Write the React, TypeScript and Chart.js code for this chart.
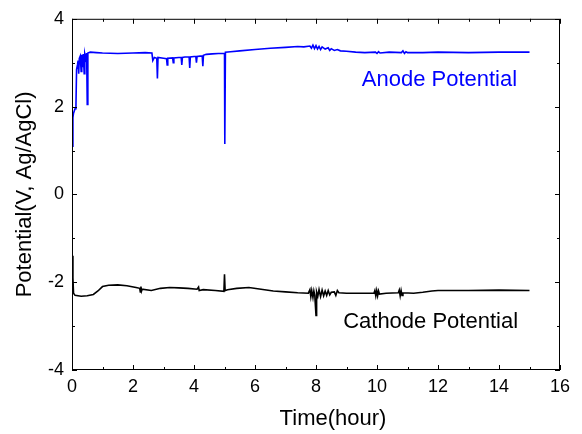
import React, { useEffect, useRef } from "react";
import { Chart, registerables } from "chart.js";

Chart.register(...registerables);

// Anode potential (hours, V vs Ag/AgCl)
const anodeTime = [
  0.02, 0.03, 0.05, 0.1, 0.13, 0.15, 0.18, 0.2, 0.22, 0.24, 0.27, 0.3, 0.32, 0.35, 0.37, 0.4, 0.42, 0.45, 0.48, 0.5,
  0.52, 0.6, 0.8, 1.0, 1.5, 2.0, 2.4, 2.62, 2.65, 2.7, 2.78, 2.8, 2.82, 3.0, 3.1, 3.12, 3.14, 3.3, 3.32, 3.34,
  3.5, 3.58, 3.6, 3.62, 3.7, 3.84, 3.86, 3.88, 4.0, 4.06, 4.08, 4.1, 4.2, 4.27, 4.29, 4.31, 4.4, 4.6, 4.8, 5.0,
  5.01, 5.03, 5.2, 5.5, 6.0, 6.5, 7.0, 7.4, 7.6, 7.8, 7.85, 7.9, 7.95, 8.0, 8.05, 8.1, 8.15, 8.2, 8.3, 8.4,
  8.45, 8.5, 8.6, 8.7, 8.8, 9.0, 9.3, 9.6, 9.95, 10.0, 10.05, 10.1, 10.4, 10.8, 10.85, 10.9, 10.95, 11.0, 11.5, 12.0,
  13.0, 14.0, 15.0,
];
const anodeValue = [
  1.1, 1.75, 1.85, 1.95, 2.05, 2.85, 2.95, 3.05, 2.75, 3.1, 3.15, 2.8, 3.18, 2.9, 3.2, 2.75, 3.2, 3.1, 3.22, 2.05,
  3.22, 3.24, 3.23, 3.22, 3.21, 3.22, 3.23, 3.22, 3.05, 3.12, 3.1, 2.64, 3.12, 3.1, 3.09, 2.95, 3.1, 3.11, 3.0, 3.11,
  3.12, 3.12, 2.95, 3.12, 3.13, 3.13, 2.88, 3.13, 3.14, 3.14, 3.0, 3.14, 3.15, 3.15, 2.92, 3.17, 3.19, 3.2, 3.21, 3.21,
  1.15, 3.24, 3.25, 3.27, 3.3, 3.33, 3.35, 3.37, 3.36, 3.38, 3.33, 3.4, 3.32, 3.39, 3.31, 3.37, 3.3, 3.36, 3.31, 3.34,
  3.28, 3.32, 3.28, 3.3, 3.27, 3.26, 3.24, 3.23, 3.24, 3.21, 3.25, 3.22, 3.24, 3.23, 3.27, 3.21, 3.25, 3.23, 3.23, 3.24,
  3.23, 3.24, 3.24,
];

// Cathode potential (hours, V vs Ag/AgCl)
const cathodeTime = [
  0.02, 0.03, 0.05, 0.1, 0.3, 0.5, 0.7, 0.85, 1.0, 1.2, 1.5, 1.8, 2.1, 2.22, 2.24, 2.26, 2.28, 2.3, 2.6, 2.9,
  3.2, 3.5, 3.8, 4.1, 4.15, 4.17, 4.3, 4.7, 4.98, 5.0, 5.02, 5.1, 5.4, 5.8, 6.2, 6.6, 7.0, 7.4, 7.75, 7.8,
  7.83, 7.86, 7.9, 7.93, 7.96, 8.0, 8.02, 8.06, 8.1, 8.15, 8.2, 8.25, 8.3, 8.35, 8.4, 8.45, 8.5, 8.6, 8.65, 8.7,
  8.75, 9.0, 9.5, 9.9, 9.93, 9.96, 9.99, 10.02, 10.05, 10.08, 10.3, 10.7, 10.73, 10.76, 10.79, 10.82, 10.85, 11.2, 11.5, 11.8,
  12.0, 13.0, 14.0, 15.0,
];
const cathodeValue = [
  -1.4, -1.9, -2.25, -2.3, -2.32, -2.31, -2.28, -2.2, -2.1, -2.07, -2.06, -2.08, -2.12, -2.14, -2.22, -2.1, -2.2, -2.16, -2.19, -2.14,
  -2.12, -2.13, -2.14, -2.16, -2.11, -2.19, -2.17, -2.19, -2.21, -1.82, -2.19, -2.17, -2.14, -2.12, -2.16, -2.2, -2.22, -2.24, -2.25, -2.17,
  -2.33, -2.19, -2.35, -2.2, -2.3, -2.76, -2.22, -2.32, -2.17, -2.33, -2.18, -2.31, -2.2, -2.3, -2.19, -2.29, -2.23, -2.22, -2.3, -2.19,
  -2.24, -2.25, -2.25, -2.25, -2.19, -2.31, -2.19, -2.31, -2.2, -2.27, -2.25, -2.24, -2.18, -2.31, -2.19, -2.3, -2.24, -2.25, -2.23, -2.2,
  -2.19, -2.19, -2.18, -2.19,
];

const xTickValues = [0, 2, 4, 6, 8, 10, 12, 14, 16];
const yTickValues = [-4, -2, 0, 2, 4];
const xMinorValues = [1, 3, 5, 7, 9, 11, 13, 15];
const yMinorValues = [-3, -1, 1, 3];

const xTitle = "Time(hour)";
const yTitle = "Potential(V, Ag/AgCl)";
const anodeLabel = "Anode Potential";
const cathodeLabel = "Cathode Potential";

const FONT = "'Liberation Sans', Arial, Helvetica, sans-serif";

const framePlugin = {
  id: "framePlugin",
  afterDraw(chart: any) {
    const { ctx, chartArea, scales } = chart;
    const xs = scales.x;
    const ys = scales.y;
    const { left, right, top, bottom } = chartArea;
    ctx.save();
    ctx.strokeStyle = "#000";
    ctx.lineWidth = 1;
    ctx.strokeRect(left + 0.5, top + 0.5, right - left - 1, bottom - top - 1);
    ctx.beginPath();
    const major = 5;
    const minor = 3;
    const drawX = (v: number, len: number) => {
      const px = Math.round(xs.getPixelForValue(v)) + 0.5;
      ctx.moveTo(px, bottom);
      ctx.lineTo(px, bottom - len);
      ctx.moveTo(px, top);
      ctx.lineTo(px, top + len);
    };
    const drawY = (v: number, len: number) => {
      const py = Math.round(ys.getPixelForValue(v)) + 0.5;
      ctx.moveTo(left, py);
      ctx.lineTo(left + len, py);
      ctx.moveTo(right, py);
      ctx.lineTo(right - len, py);
    };
    xTickValues.forEach((v) => drawX(v, major));
    xMinorValues.forEach((v) => drawX(v, minor));
    yTickValues.forEach((v) => drawY(v, major));
    yMinorValues.forEach((v) => drawY(v, minor));
    ctx.stroke();

    // series labels
    ctx.font = `22px ${FONT}`;
    ctx.textAlign = "left";
    ctx.textBaseline = "alphabetic";
    ctx.fillStyle = "#0000ff";
    ctx.fillText(anodeLabel, xs.getPixelForValue(9.5), ys.getPixelForValue(2.47));
    ctx.fillStyle = "#000";
    ctx.fillText(cathodeLabel, xs.getPixelForValue(8.89), ys.getPixelForValue(-3.05));

    // x axis title
    ctx.textAlign = "center";
    ctx.fillText(xTitle, 333, 425);
    ctx.restore();
  },
};

export default function App() {
  const canvasRef = useRef<HTMLCanvasElement | null>(null);

  useEffect(() => {
    document.body.style.margin = "0";
    const canvas = canvasRef.current;
    if (!canvas) return;
    const chart = new Chart(canvas, {
      type: "line",
      data: {
        datasets: [
          {
            label: anodeLabel,
            data: anodeTime.map((t, i) => ({ x: t, y: anodeValue[i] })),
            borderColor: "#0000ff",
            borderWidth: 1.6,
            pointRadius: 0,
            tension: 0,
          },
          {
            label: cathodeLabel,
            data: cathodeTime.map((t, i) => ({ x: t, y: cathodeValue[i] })),
            borderColor: "#000000",
            borderWidth: 1.6,
            pointRadius: 0,
            tension: 0,
          },
        ],
      },
      options: {
        responsive: false,
        animation: false,
        devicePixelRatio: 1,
        layout: { padding: { top: 16, right: 22, left: 0, bottom: 0 } },
        plugins: { legend: { display: false }, tooltip: { enabled: false } },
        scales: {
          x: {
            type: "linear",
            min: 0,
            max: 16,
            afterFit: (s: any) => {
              s.height = 64;
            },
            afterBuildTicks: (s: any) => {
              s.ticks = xTickValues.map((v) => ({ value: v }));
            },
            grid: { display: false, drawTicks: false },
            border: { display: false },
            ticks: {
              padding: 6,
              color: "#000",
              font: { family: FONT, size: 18 },
            },
          },
          y: {
            type: "linear",
            min: -4,
            max: 4,
            afterFit: (s: any) => {
              s.width = 72;
            },
            afterBuildTicks: (s: any) => {
              s.ticks = yTickValues.map((v) => ({ value: v }));
            },
            grid: { display: false, drawTicks: false },
            border: { display: false },
            title: {
              display: true,
              text: yTitle,
              color: "#000",
              font: { family: FONT, size: 22 },
              padding: { top: 12, bottom: 0 },
            },
            ticks: {
              padding: 8,
              color: "#000",
              font: { family: FONT, size: 18 },
            },
          },
        },
      },
      plugins: [framePlugin],
    });
    return () => chart.destroy();
  }, []);

  return (
    <div style={{ width: 582, height: 434, background: "#fff" }}>
      <canvas ref={canvasRef} width={582} height={434} style={{ display: "block" }} />
    </div>
  );
}
